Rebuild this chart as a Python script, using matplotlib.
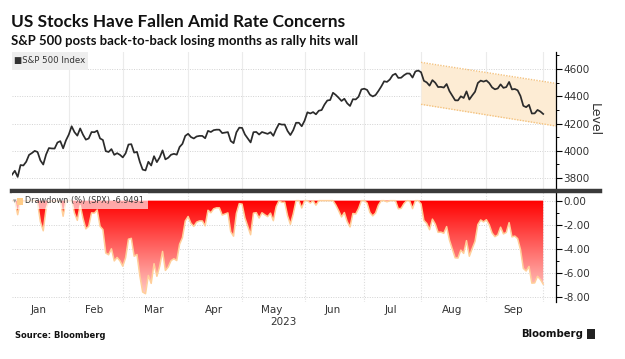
import numpy as np
import matplotlib.pyplot as plt
from matplotlib.lines import Line2D
from matplotlib.patches import Rectangle
from matplotlib.ticker import MultipleLocator, FuncFormatter

months = ["Jan", "Feb", "Mar", "Apr", "May", "Jun", "Jul", "Aug", "Sep"]

# S&P 500 daily levels, one list per month (trading days)
spx_jan = [3824.14, 3852.97, 3808.10, 3895.08, 3892.09, 3919.25, 3969.61, 3983.17, 3999.09, 3990.97,
           3928.86, 3898.85, 3972.61, 4019.81, 4016.95, 4016.22, 4060.43, 4070.56, 4017.77, 4076.60]
spx_feb = [4119.21, 4179.76, 4136.48, 4111.08, 4164.00, 4117.86, 4081.50, 4090.46, 4137.29, 4136.13,
           4147.60, 4090.41, 4079.09, 3997.34, 3991.05, 4012.32, 3970.04, 3982.24, 3970.15]
spx_mar = [3951.39, 3981.35, 4045.64, 4048.42, 3986.37, 3992.01, 3918.32, 3861.59, 3855.76, 3919.29,
           3891.93, 3960.28, 3916.64, 3951.57, 4002.87, 3936.97, 3948.72, 3970.99, 3977.53, 3971.27,
           4027.81, 4050.83, 4109.31]
spx_apr = [4124.51, 4100.60, 4090.38, 4105.02, 4109.11, 4108.94, 4091.95, 4146.22, 4137.64, 4151.32,
           4154.87, 4154.52, 4129.79, 4133.52, 4137.04, 4071.63, 4055.99, 4135.35, 4169.48]
spx_may = [4167.87, 4119.58, 4090.75, 4061.22, 4136.25, 4138.12, 4119.17, 4137.64, 4130.62, 4124.08,
           4136.28, 4109.90, 4158.77, 4198.05, 4191.98, 4192.63, 4145.58, 4115.24, 4151.28, 4205.45,
           4205.52, 4179.83]
spx_jun = [4221.02, 4282.37, 4273.79, 4283.85, 4267.52, 4293.93, 4298.86, 4338.93, 4369.01, 4372.59,
           4425.84, 4409.59, 4388.71, 4365.69, 4381.89, 4348.33, 4328.82, 4378.41, 4376.86, 4396.44,
           4450.38]
spx_jul = [4455.59, 4446.82, 4411.59, 4398.95, 4409.53, 4439.26, 4472.16, 4510.04, 4505.42, 4522.79,
           4554.98, 4565.72, 4534.87, 4536.34, 4554.64, 4567.46, 4566.75, 4537.41, 4582.23, 4588.96]
spx_aug = [4576.73, 4513.39, 4501.89, 4478.03, 4518.44, 4499.38, 4467.71, 4468.83, 4464.05, 4489.72,
           4437.86, 4404.33, 4370.36, 4369.71, 4399.77, 4387.55, 4436.01, 4376.31, 4405.71, 4433.31,
           4497.63, 4514.87, 4507.66]
spx_sep = [4515.77, 4496.83, 4465.48, 4451.14, 4457.49, 4487.46, 4461.90, 4467.44, 4505.10, 4450.32,
           4453.53, 4443.95, 4402.20, 4330.00, 4320.06, 4337.44, 4273.53, 4274.51, 4299.70, 4288.05]
spx_oct = [4270.07]

# drawdown (%) from running peak
dd_jan = [0, 0, -1.17, 0, -0.08, 0, 0, 0, 0, -0.20, -1.76, -2.51, -0.66, 0, -0.07, -0.09, 0, 0, -1.30, 0]
dd_feb = [0, 0, -1.04, -1.64, -0.38, -1.48, -2.35, -2.14, -1.02, -1.04, -0.77, -2.14, -2.41, -4.36,
          -4.51, -4.01, -5.02, -4.73, -5.01]
dd_mar = [-5.46, -4.75, -3.21, -3.14, -4.63, -4.49, -6.25, -7.61, -7.75, -6.23, -6.89, -5.25, -6.30,
          -5.46, -4.23, -5.81, -5.53, -4.99, -4.84, -4.99, -3.63, -3.08, -1.69]
dd_apr = [-1.32, -1.89, -2.14, -1.79, -1.69, -1.69, -2.10, -0.80, -1.01, -0.68, -0.60, -0.60, -1.20,
          -1.11, -1.02, -2.59, -2.96, -1.06, -0.25]
dd_may = [-0.29, -1.44, -2.13, -2.84, -1.04, -1.00, -1.45, -1.01, -1.18, -1.33, -1.04, -1.67, -0.50,
          0, -0.14, -0.13, -1.25, -1.97, -1.11, 0, 0, -0.61]
dd_jun = [0, 0, -0.20, 0, -0.38, 0, 0, 0, 0, 0, 0, -0.37, -0.84, -1.36, -0.99, -1.75, -2.19, -1.07,
          -1.11, -0.66, 0]
dd_jul = [0, -0.20, -0.99, -1.27, -1.03, -0.37, 0, 0, -0.10, 0, 0, 0, -0.68, -0.64, -0.24, 0, -0.02,
          -0.66, 0, 0]
dd_aug = [-0.27, -1.65, -1.90, -2.42, -1.54, -1.95, -2.64, -2.62, -2.72, -2.16, -3.29, -4.02, -4.76,
          -4.78, -4.12, -4.39, -3.33, -4.63, -3.99, -3.39, -1.99, -1.61, -1.77]
dd_sep = [-1.59, -2.01, -2.69, -3.00, -2.86, -2.21, -2.77, -2.65, -1.83, -3.02, -2.95, -3.16, -4.07,
          -5.64, -5.86, -5.48, -6.87, -6.85, -6.30, -6.56]
dd_oct = [-6.9491]

# downward channel drawn from 1 Aug to the right edge
chan_upper = [4649, 4495]
chan_lower = [4341, 4182]

spx_months = [spx_jan, spx_feb, spx_mar, spx_apr, spx_may, spx_jun, spx_jul, spx_aug, spx_sep, spx_oct]
spx = np.concatenate(spx_months)
dd = np.concatenate([dd_jan, dd_feb, dd_mar, dd_apr, dd_may, dd_jun, dd_jul, dd_aug, dd_sep, dd_oct])
x = np.arange(len(spx))
starts = np.concatenate([[0], np.cumsum([len(m) for m in spx_months])[:-1]])
centers = [(starts[i] + starts[i + 1] - 1) / 2 for i in range(9)]

W, H = 625, 359
fig = plt.figure(figsize=(W / 100, H / 100), dpi=100)
plt.rcParams['font.family'] = 'DejaVu Sans'

def fx(px):
    return px / W

def fy(py):
    return 1 - py / H

x0, x1 = 12, 555.7
xmax = 191.4
ax1 = fig.add_axes([fx(x0), fy(190), fx(x1 - x0), fy(52) - fy(190)])
ax2 = fig.add_axes([fx(x0), fy(302), fx(x1 - x0), fy(192) - fy(302)])

grey = '#333333'
for ax in (ax1, ax2):
    ax.set_xlim(0, xmax)
    for s in ['top', 'left', 'bottom']:
        ax.spines[s].set_visible(False)
    ax.spines['right'].set_color('black')
    ax.spines['right'].set_linewidth(0.9)
    ax.yaxis.tick_right()
    ax.tick_params(axis='y', which='major', direction='out', length=4, width=0.8,
                   labelsize=7.5, labelcolor=grey, pad=1.5)
    ax.tick_params(axis='y', which='minor', direction='out', length=2.5, width=0.7)
    ax.set_axisbelow(True)

# top panel
ax1.set_ylim(3712, 4725)
ax1.yaxis.set_major_locator(MultipleLocator(200))
ax1.yaxis.set_minor_locator(MultipleLocator(100))
ax1.set_xticks([])
for v in range(3800, 4700, 200):
    ax1.axhline(v, color='#d2d2d2', lw=0.7, ls=(0, (1, 1.5)), zorder=0)
for s in starts[1:]:
    ax1.axvline(s, color='#ebebeb', lw=0.8, zorder=0)

ax1.fill_between([starts[7], xmax], chan_lower, chan_upper, color='#fdecd4', lw=0, zorder=1)
ax1.plot([starts[7], xmax], chan_upper, color='#f4c27e', lw=1.0, ls=(0, (1, 1)), zorder=2)
ax1.plot([starts[7], xmax], chan_lower, color='#f4c27e', lw=1.0, ls=(0, (1, 1)), zorder=2)
ax1.plot(x, spx, color='#2b2b2b', lw=1.25, zorder=3)

# bottom panel
ax2.set_ylim(-8.44, 0.72)
ax2.yaxis.set_major_locator(MultipleLocator(2))
ax2.yaxis.set_minor_locator(MultipleLocator(1))
ax2.yaxis.set_major_formatter(FuncFormatter(lambda v, p: '%.2f' % v if v != 0 else '0.00'))
for v in range(-8, 1, 2):
    ax2.axhline(v, color='#d2d2d2', lw=0.7, ls=(0, (1, 1.5)), zorder=0)
for s in starts[1:]:
    ax2.axvline(s, color='#dddddd', lw=0.8, ls=(0, (1, 1.5)), zorder=0)

poly = ax2.fill_between(x, dd, 0, facecolor='none', lw=0)
grad = np.linspace(0, 1, 256).reshape(-1, 1)
cols = np.zeros((256, 1, 3))
cols[:, 0, 0] = 1.0
cols[:, 0, 1] = grad[:, 0] * 0.86
cols[:, 0, 2] = grad[:, 0] * 0.84
im = ax2.imshow(cols, extent=[0, xmax, -8.44, 0], aspect='auto', origin='upper', zorder=1)
im.set_clip_path(poly.get_paths()[0], transform=ax2.transData)
ax2.plot(x, dd, color='#ffcf9a', lw=1.1, zorder=2)

ax2.set_xticks(centers)
ax2.set_xticklabels(months)
ax2.tick_params(axis='x', length=0, labelsize=7.5, labelcolor=grey, pad=2)

# legends
fig.patches.append(Rectangle((fx(12), fy(70)), fx(76), fy(52) - fy(70), transform=fig.transFigure,
                             facecolor='#eeeeee', edgecolor='none', zorder=5))
fig.text(fx(14), fy(61), '\u25a0S&P 500 Index', fontsize=6.2, color=grey, va='center', zorder=6)
fig.patches.append(Rectangle((fx(12), fy(209)), fx(136), fy(193) - fy(209), transform=fig.transFigure,
                             facecolor='white', alpha=0.65, edgecolor='none', zorder=5))
fig.patches.append(Rectangle((fx(17), fy(205)), fx(6), fy(198) - fy(205), transform=fig.transFigure,
                             facecolor='#ffcc88', edgecolor='none', zorder=6))
fig.text(fx(12.5), fy(201), '\u25be', fontsize=5, color='#999999', va='center', zorder=6)
fig.text(fx(25), fy(201), 'Drawdown (%) (SPX) -6.9491', fontsize=5.9, color=grey, va='center', zorder=6)

# separator
fig.add_artist(Line2D([fx(12), fx(600)], [fy(190.8), fy(190.8)], color='#3a3a3a', lw=3.2))

# texts
fig.text(fx(11), fy(22), 'US Stocks Have Fallen Amid Rate Concerns', fontsize=12.45, fontweight='bold',
         family='Lato', color='#111111', va='center')
fig.text(fx(11), fy(41), 'S&P 500 posts back-to-back losing months as rally hits wall', fontsize=9.45,
         fontweight='bold', family='Lato', color='#111111', va='center')
fig.text(fx(594), fy(120), 'Level', rotation=270, fontsize=9, color=grey, va='center', ha='center')
fig.text(fx(283), fy(322), '2023', fontsize=7.5, color=grey, va='center', ha='center')
fig.text(fx(15), fy(335), 'Source: Bloomberg', fontsize=6, fontweight='bold', color='#111111',
         va='center')
fig.text(fx(583), fy(334), 'Bloomberg', fontsize=7.3, fontweight='bold', color='#111111',
         va='center', ha='right')
fig.patches.append(Rectangle((fx(587), fy(339)), fx(8), fy(329) - fy(339), transform=fig.transFigure,
                             facecolor='#222222', edgecolor='none'))

fig.savefig('out.png', dpi=100)
